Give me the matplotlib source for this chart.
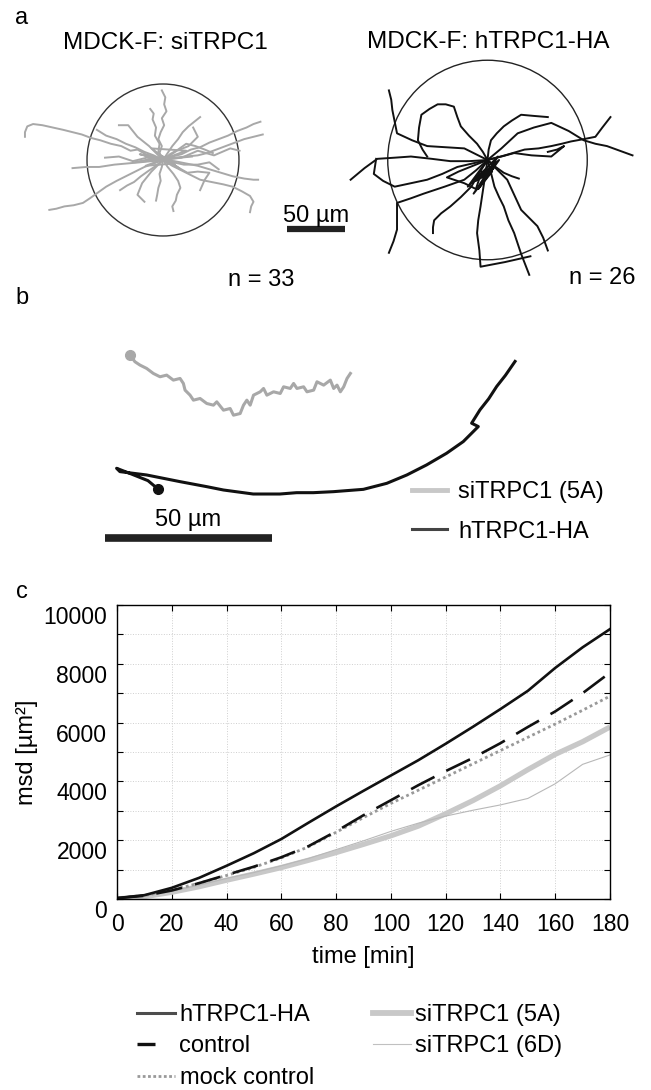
import numpy as np
import matplotlib.pyplot as plt
from matplotlib.lines import Line2D
from matplotlib.patches import Circle
from matplotlib.transforms import ScaledTranslation

plt.rcParams['font.family'] = ['Liberation Sans', 'DejaVu Sans']

# ---- panel a: cell tracks (µm, relative to each start point) ----
si_tracks = [
    [(0,0),(-8,3),(-15,5),(-22,9),(-28,8),(-36,12),(-45,14),(-54,17),(-62,19),(-70,22),(-78,24),(-86,26),(-95,28),(-104,30),(-112,31),(-117,29),(-119,24),(-119,20)],
    [(0,0),(-8,-3),(-16,-6),(-24,-10),(-32,-14),(-40,-18),(-49,-23),(-56,-28),(-63,-33),(-69,-37),(-77,-39),(-85,-40),(-92,-42),(-98,-43)],
    [(0,0),(-10,-1),(-20,-2),(-31,-3),(-42,-4),(-55,-6),(-66,-6),(-78,-7)],
    [(0,0),(-3,6),(-1,12),(-4,18),(-2,24),(1,30),(-1,36),(3,42),(1,48),(2,54),(-1,60)],
    [(0,0),(-4,7),(-3,14),(-7,21),(-6,28),(-9,35),(-8,40),(-11,44)],
    [(0,0),(8,3),(16,5),(24,9),(32,11),(40,15),(48,18),(56,21),(64,25),(72,28),(78,31),(84,33)],
    [(0,0),(10,2),(20,3),(30,4),(38,6),(46,9),(54,12),(62,15),(70,18),(78,20),(86,22)],
    [(0,0),(10,-1),(20,-3),(30,-5),(40,-8),(50,-11),(60,-14),(70,-16),(78,-17),(82,-17)],
    [(0,0),(8,-5),(16,-9),(24,-13),(32,-17),(42,-19),(52,-21),(60,-23),(68,-27),(75,-31),(78,-36),(76,-40),(75,-45)],
    [(0,0),(4,-6),(9,-12),(13,-18),(15,-24),(12,-30),(11,-35),(8,-40),(9,-44)],
    [(0,0),(-1,-6),(-3,-12),(-2,-18),(-4,-24),(-5,-30),(-6,-35)],
    [(0,0),(4,6),(8,12),(13,18),(17,24),(22,29),(27,33),(32,37)],
    [(0,0),(-8,4),(-16,7),(-24,11),(-32,14),(-40,18),(-49,21),(-57,26)],
    [(0,0),(-6,-5),(-12,-9),(-19,-14),(-25,-19),(-31,-22),(-37,-26)],
    [(0,0),(7,-3),(14,-7),(21,-11),(30,-10),(40,-11),(36,-17),(32,-26)],
    [(0,0),(6,5),(13,9),(20,14),(28,12),(36,9),(43,6)],
    [(0,0),(-20,5),(10,-3),(-15,-5),(20,8),(-10,10),(15,-8),(0,3),(-25,-2),(25,3)],
    [(0,0),(-12,12),(-22,20),(-30,30),(-38,30)],
    [(0,0),(18,-4),(30,-4),(40,-2),(48,-8)],
    [(0,0),(-14,2),(-26,-1),(-38,3),(-50,2)],
    [(0,0),(12,8),(22,12),(30,20),(26,28)],
    [(0,0),(-10,-10),(-18,-20),(-22,-30),(-16,-36)],
    [(0,0),(16,2),(30,8),(44,4),(58,10),(66,8)],
]
ha_tracks = [
    [(0,0),(-4,7),(-9,14),(-16,21),(-23,29),(-26,37),(-29,46),(-36,48),(-43,48),(-50,44),(-57,39),(-59,28),(-60,17),(-56,9),(-52,3)],
    [(0,0),(1,9),(3,17),(8,23),(14,29),(21,34),(29,39),(40,38),(52,37)],
    [(0,0),(12,10),(26,23),(40,28),(55,32),(70,25),(83,17),(93,14),(103,12),(114,8),(125,4)],
    [(0,0),(15,4),(32,9),(44,10),(55,12),(64,14),(72,16),(83,18),(93,20),(99,28),(106,37)],
    [(0,0),(-10,5),(-20,10),(-36,11),(-52,12),(-65,17),(-78,23),(-80,33),(-82,43),(-83,52),(-85,60)],
    [(0,0),(-16,-1),(-32,-1),(-48,1),(-66,3),(-80,2),(-95,1),(-106,-7),(-118,-17)],
    [(0,0),(-10,-9),(-20,-17),(-37,-23),(-55,-29),(-66,-33),(-78,-37),(-78,-48),(-78,-60),(-81,-70),(-85,-80)],
    [(0,0),(-7,-11),(-14,-23),(-23,-32),(-32,-40),(-40,-46),(-46,-52),(-47,-58),(-47,-63)],
    [(0,0),(3,-11),(6,-23),(10,-32),(14,-40),(18,-52),(23,-63),(29,-81),(36,-99)],
    [(0,0),(9,-9),(17,-17),(23,-30),(29,-43),(36,-50),(43,-57),(48,-67),(52,-78)],
    [(0,0),(-3,-20),(-6,-40),(-8,-52),(-9,-63),(-7,-78),(-6,-92),(15,-88),(37,-83)],
    [(0,0),(-13,-3),(-26,-6),(-39,-12),(-52,-17),(-66,-20),(-80,-23),(-90,-18),(-98,-12),(-96,1)],
    [(0,0),(7,-6),(14,-11),(21,-14),(27,-16)],
    [(0,0),(12,3),(23,6),(38,4),(55,3),(66,12),(60,9),(52,7)],
    [(0,0),(-17,-23),(9,3),(-12,-29),(6,-6),(-14,-20),(10,0),(-8,-25),(4,-10),(-10,-18)],
    [(0,0),(-25,-10),(-35,-15),(-20,-20),(-10,-25),(-5,-10)],
]
si_radius = 65.5
ha_radius = 86.0
n_si, n_ha = 33, 26

# ---- panel b: two example tracks (µm) ----
b_si = [(0,0),(1.5,-2),(3,-3),(5,-4),(7,-5.5),(9,-6.5),(11,-6),(13,-7.5),(15,-7),(16,-8.5),(16.5,-10.5),
        (18,-12),(19,-13.5),(21,-13),(23,-14.5),(25,-15),(26,-14),(28,-16.5),(30,-16),(31,-18),(33,-17.5),
        (34,-15),(35,-13.5),(36,-15),(37,-12),(39,-11),(40,-10),(41,-12),(43,-11),(45,-11.5),(46,-9.5),
        (48,-10),(49,-8.5),(50,-10),(52,-9.5),(53,-11),(55,-10.5),(56,-8),(58,-9),(60,-7.5),(61,-10),
        (62,-9),(63,-11),(64,-9.5),(65,-7),(66,-5.5)]
b_ha = [(0,0),(-3,2.5),(-8,4.5),(-12.4,6.2),(-11.4,5.2),(-3.4,4.2),(6.6,2.2),(14.6,0.7),(19.6,-0.3),
        (28.5,-1.5),(36.5,-1.5),(41.5,-1.1),(46.5,-1.1),(52.5,-0.8),(61.5,-0.1),(68.5,1.7),(74.5,4.2),
        (80.4,7.2),(86.4,10.7),(91.4,14.2),(95.9,18.7),(93.9,19.7),(96.4,23.7),(99,27),(101.4,30.7),
        (104,34),(106.9,38.2)]
b_si_start = (-8.4, 40.1)

# ---- panel c: mean squared displacement ----
time = [0, 10, 20, 30, 40, 50, 60, 70, 80, 90, 100, 110, 120, 130, 140, 150, 160, 170, 180]
msd_ha = [30, 130, 380, 720, 1130, 1560, 2040, 2600, 3150, 3680, 4200, 4720, 5280, 5860, 6460, 7080, 7860, 8560, 9180]
msd_control = [30, 110, 290, 540, 820, 1100, 1420, 1800, 2300, 2850, 3360, 3870, 4350, 4800, 5300, 5850, 6380, 7000, 7700]
msd_mock = [30, 120, 300, 540, 800, 1080, 1400, 1780, 2270, 2770, 3250, 3700, 4150, 4600, 5050, 5500, 5950, 6420, 6900]
msd_si5a = [0, 80, 230, 420, 640, 850, 1070, 1320, 1580, 1860, 2150, 2480, 2900, 3350, 3850, 4400, 4920, 5350, 5850]
msd_si6d = [0, 90, 260, 470, 700, 900, 1130, 1380, 1680, 1980, 2300, 2580, 2820, 3020, 3200, 3420, 3920, 4580, 4900]

W, H = 651, 1090
fig = plt.figure(figsize=(W / 100, H / 100), dpi=100)


def box(x0, y0, x1, y1):
    return [x0 / W, 1 - y1 / H, (x1 - x0) / W, (y1 - y0) / H]


FS = 17

# panel a
pa = 1.16  # px per µm
axa = fig.add_axes(box(0, 0, W, 300))
axa.axis('off')
axa.set_xlim(-163 / pa, (W - 163) / pa)
axa.set_ylim(-(300 - 160) / pa, 160 / pa)
ha_x0 = (487.5 - 163) / pa
for t in si_tracks:
    t = np.array(t)
    axa.plot(t[:, 0], t[:, 1], color='#a8a8a8', lw=1.4, solid_joinstyle='round')
for t in ha_tracks:
    t = np.array(t)
    axa.plot(t[:, 0] + ha_x0, t[:, 1], color='#111111', lw=1.4, solid_joinstyle='round')
axa.add_patch(Circle((0, 0), si_radius, fill=False, ec='#333333', lw=1.0))
axa.add_patch(Circle((ha_x0, 0), ha_radius, fill=False, ec='#222222', lw=1.0))
bar_y = -(229 - 160) / pa
bar_x = (287 - 163) / pa
axa.plot([bar_x, bar_x + 50], [bar_y, bar_y], color='#222222', lw=4.5, solid_capstyle='butt')
axa.text(bar_x + 25, bar_y + 1.5, '50 µm', ha='center', va='bottom', fontsize=FS)

fig.text(22 / W, 1 - 18 / H, 'a', ha='center', va='center', fontsize=FS)
fig.text(165 / W, 1 - 43 / H, 'MDCK-F: siTRPC1', ha='center', va='center', fontsize=17.5)
fig.text(488 / W, 1 - 42 / H, 'MDCK-F: hTRPC1-HA', ha='center', va='center', fontsize=17.5)
fig.text(261 / W, 1 - 280 / H, 'n = {}'.format(n_si), ha='center', va='center', fontsize=FS)
fig.text(602 / W, 1 - 278 / H, 'n = {}'.format(n_ha), ha='center', va='center', fontsize=FS)

# panel b
pb = 3.34
axb = fig.add_axes(box(0, 290, W, 560))
axb.axis('off')
axb.set_xlim(-158 / pb, (W - 158) / pb)
axb.set_ylim(-(560 - 489) / pb, (489 - 290) / pb)
g = np.array(b_si) + np.array(b_si_start)
k = np.array(b_ha)
axb.plot(g[:, 0], g[:, 1], color='#a8a8a8', lw=2.2, solid_joinstyle='round')
axb.plot(g[0, 0], g[0, 1], 'o', color='#a8a8a8', ms=7)
axb.plot(k[:, 0], k[:, 1], color='#111111', lw=2.2, solid_joinstyle='round')
axb.plot(k[0, 0], k[0, 1], 'o', color='#111111', ms=7)
sb_x = (105 - 158) / pb
sb_y = -(538 - 489) / pb
axb.plot([sb_x, sb_x + 50], [sb_y, sb_y], color='#222222', lw=5.5, solid_capstyle='butt')
axb.text(sb_x + 25, sb_y + 2.0, '50 µm', ha='center', va='bottom', fontsize=FS)
fig.text(22 / W, 1 - 298 / H, 'b', ha='center', va='center', fontsize=FS)
hb = [Line2D([], [], color='#c8c8c8', lw=3.5), Line2D([], [], color='#444444', lw=2.2)]
axb.legend(hb, ['siTRPC1 (5A)', 'hTRPC1-HA'], loc='upper left',
           bbox_to_anchor=(412 / W, 1 - 481 / H), bbox_transform=fig.transFigure,
           frameon=False, fontsize=FS, handlelength=1.5, handletextpad=0.45,
           labelspacing=0.75, borderpad=0, borderaxespad=0)

# panel c
ax = fig.add_axes(box(117, 605, 610, 899))
ax.plot(time, msd_si5a, color='#c8c8c8', lw=3.8, solid_capstyle='butt')
ax.plot(time, msd_si6d, color='#b8b8b8', lw=0.8)
ax.plot(time, msd_mock, color='#999999', lw=2.0, linestyle=(0, (1, 1.1)))
ax.plot(time, msd_control, color='#111111', lw=1.9, dashes=(10, 5))
ax.plot(time, msd_ha, color='#111111', lw=1.9)
ax.set_xlim(0, 180)
ax.set_ylim(0, 10000)
ax.set_xticks(range(0, 181, 20))
ax.set_yticks(range(0, 10001, 2000))
ax.set_yticks(range(1000, 10000, 2000), minor=True)
ax.grid(True, which='both', color='#cfcfcf', ls=':', lw=0.7)
ax.tick_params(which='both', direction='in', top=True, right=True, length=4, width=0.8,
               labelsize=16.5)
ax.tick_params(axis='x', pad=10)
ax.tick_params(axis='y', pad=7)
for s in ax.spines.values():
    s.set_linewidth(1.0)
shift = ScaledTranslation(0, -10 / 100, fig.dpi_scale_trans)
for lab in ax.get_yticklabels():
    lab.set_transform(lab.get_transform() + shift)
ax.set_xlabel('time [min]', fontsize=FS, labelpad=7)
ax.set_ylabel('msd [µm²]', fontsize=FS, labelpad=4)
fig.text(22 / W, 1 - 592 / H, 'c', ha='center', va='center', fontsize=FS)

hc = [Line2D([], [], color='#4d4d4d', lw=2.2),
      Line2D([], [], color='#111111', lw=2.4, dashes=(5.4, 10)),
      Line2D([], [], color='#999999', lw=2.0, linestyle=(0, (1, 0.9))),
      Line2D([], [], color='#c8c8c8', lw=4.2),
      Line2D([], [], color='#c0c0c0', lw=0.8)]
fig.legend(hc, ['hTRPC1-HA', 'control', 'mock control', 'siTRPC1 (5A)', 'siTRPC1 (6D)'],
           ncol=2, loc='upper left', bbox_to_anchor=(137 / W, 1 - 1004 / H),
           frameon=False, fontsize=FS, handlelength=1.6, handletextpad=0.2,
           columnspacing=2.5, labelspacing=0.4, borderpad=0, borderaxespad=0)

fig.savefig('out.png', dpi=100)
